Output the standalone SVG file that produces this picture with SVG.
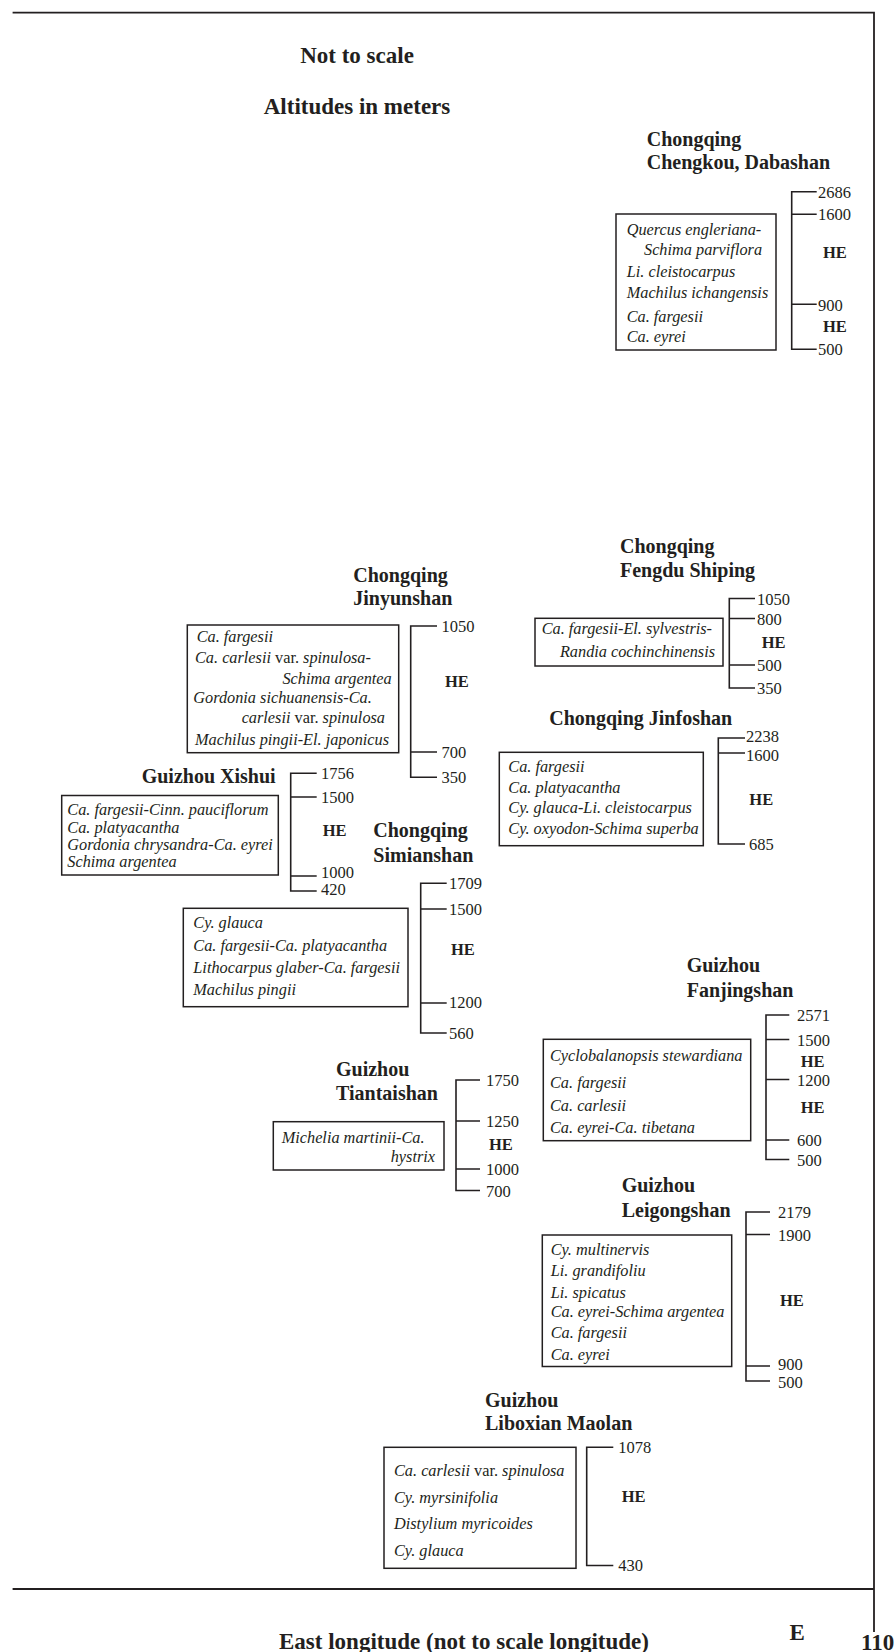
<svg xmlns="http://www.w3.org/2000/svg" width="895" height="1652" viewBox="0 0 895 1652">
<style>
text{font-family:"Liberation Serif","Times New Roman",serif;fill:#231f20}
.hd{font-size:23px;font-weight:bold}
.t{font-size:20px;font-weight:bold}
.i{font-size:16.3px;font-style:italic}
.r{font-style:normal}
.n{font-size:16.5px}
.he{font-size:16.5px;font-weight:bold}
.e{text-anchor:end}
.box{fill:none;stroke:#231f20;stroke-width:1.5}
.br{fill:none;stroke:#231f20;stroke-width:1.6}
.fr{fill:none;stroke:#231f20;stroke-width:1.8}
</style>
<g id="frame">
<path class="fr" d="M12.6,12.6 H874 V1632"/>
<path class="fr" d="M12.6,1589 H874"/>
<text class="hd" x="357" y="63" text-anchor="middle">Not to scale</text>
<text class="hd" x="357" y="114" text-anchor="middle">Altitudes in meters</text>
<text class="hd" x="464" y="1649" text-anchor="middle">East longitude (not to scale longitude)</text>
<text class="hd" x="789.5" y="1640">E</text>
<text class="hd" x="861" y="1650">110</text>
</g>
<g id="connectors"></g>
<g id="dabashan">
<text class="t" x="646.7" y="146">Chongqing</text>
<text class="t" x="646.7" y="169">Chengkou, Dabashan</text>
<rect class="box" x="616" y="214" width="160" height="136"/>
<text class="i" x="626.7" y="235">Quercus engleriana-</text>
<text class="i" x="644" y="255">Schima parviflora</text>
<text class="i" x="626.7" y="276.7">Li. cleistocarpus</text>
<text class="i" x="626.7" y="298">Machilus ichangensis</text>
<text class="i" x="626.7" y="321.7">Ca. fargesii</text>
<text class="i" x="626.7" y="341.7">Ca. eyrei</text>
<path class="br" d="M816.7,191.7 H791.7 V349.3 H816.7 M791.7,214.3 H816.7 M791.7,304.3 H816.7"/>
<text class="n" x="818" y="197.5">2686</text>
<text class="n" x="818" y="220">1600</text>
<text class="n" x="818" y="311">900</text>
<text class="n" x="818" y="355">500</text>
<text class="he" x="823" y="258">HE</text>
<text class="he" x="823" y="331.7">HE</text>
</g>
<g id="jinyunshan">
<text class="t" x="353.3" y="581.7">Chongqing</text>
<text class="t" x="353.3" y="605">Jinyunshan</text>
<rect class="box" x="187.3" y="625" width="211.4" height="127.7"/>
<text class="i" x="196.7" y="641.7">Ca. fargesii</text>
<text class="i" x="195" y="663.3">Ca. carlesii <tspan class="r">var.</tspan> spinulosa-</text>
<text class="i e" x="391.7" y="684">Schima argentea</text>
<text class="i" x="193.3" y="703.3">Gordonia sichuanensis-Ca.</text>
<text class="i e" x="385" y="723.3">carlesii <tspan class="r">var.</tspan> spinulosa</text>
<text class="i" x="195" y="745">Machilus pingii-El. japonicus</text>
<path class="br" d="M437,626 H410.7 V777.3 H437 M410.7,752 H437"/>
<text class="n" x="441.5" y="632">1050</text>
<text class="n" x="441.5" y="758">700</text>
<text class="n" x="441.5" y="783">350</text>
<text class="he" x="445" y="686.7">HE</text>
</g>
<g id="fengdu">
<text class="t" x="620" y="553.3">Chongqing</text>
<text class="t" x="620" y="577">Fengdu Shiping</text>
<rect class="box" x="535" y="618.3" width="188" height="47.7"/>
<text class="i" x="541.7" y="634">Ca. fargesii-El. sylvestris-</text>
<text class="i e" x="715" y="657">Randia cochinchinensis</text>
<path class="br" d="M755,598.5 H729.3 V688 H755 M729.3,618.5 H755 M729.3,665 H755"/>
<text class="n" x="757" y="604.5">1050</text>
<text class="n" x="757" y="624.5">800</text>
<text class="n" x="757" y="671">500</text>
<text class="n" x="757" y="694">350</text>
<text class="he" x="761.7" y="648.3">HE</text>
</g>
<g id="jinfoshan">
<text class="t" x="549.3" y="725">Chongqing Jinfoshan</text>
<rect class="box" x="499.3" y="752.3" width="204" height="93.4"/>
<text class="i" x="508.3" y="772">Ca. fargesii</text>
<text class="i" x="508.3" y="792.5">Ca. platyacantha</text>
<text class="i" x="508.3" y="813">Cy. glauca-Li. cleistocarpus</text>
<text class="i" x="508.3" y="834">Cy. oxyodon-Schima superba</text>
<path class="br" d="M745,738 H718.3 V844 H745 M718.3,753 H745"/>
<text class="n" x="746" y="741.5">2238</text>
<text class="n" x="746" y="760.5">1600</text>
<text class="n" x="749" y="850">685</text>
<text class="he" x="749.3" y="805">HE</text>
</g>
<g id="xishui">
<text class="t" x="141.7" y="783.3">Guizhou Xishui</text>
<rect class="box" x="61.7" y="795.5" width="216.6" height="79.5"/>
<text class="i" x="67.3" y="815">Ca. fargesii-Cinn. pauciflorum</text>
<text class="i" x="67.3" y="833">Ca. platyacantha</text>
<text class="i" x="67.3" y="850">Gordonia chrysandra-Ca. eyrei</text>
<text class="i" x="67.3" y="867.3">Schima argentea</text>
<path class="br" d="M316.7,773.3 H290.7 V891 H316.7 M290.7,797 H316.7 M290.7,876 H316.7"/>
<text class="n" x="321" y="779">1756</text>
<text class="n" x="321" y="803">1500</text>
<text class="n" x="321" y="878">1000</text>
<text class="n" x="321" y="894.5">420</text>
<text class="he" x="322.7" y="836">HE</text>
</g>
<g id="simianshan">
<text class="t" x="373.3" y="836.7">Chongqing</text>
<text class="t" x="373.3" y="861.7">Simianshan</text>
<rect class="box" x="183.3" y="908.3" width="224.7" height="98.4"/>
<text class="i" x="193.3" y="928">Cy. glauca</text>
<text class="i" x="193.3" y="951">Ca. fargesii-Ca. platyacantha</text>
<text class="i" x="193.3" y="973">Lithocarpus glaber-Ca. fargesii</text>
<text class="i" x="193.3" y="995">Machilus pingii</text>
<path class="br" d="M446.7,883.3 H420.7 V1033 H446.7 M420.7,909 H446.7 M420.7,1003 H446.7"/>
<text class="n" x="449" y="889">1709</text>
<text class="n" x="449" y="915">1500</text>
<text class="n" x="449" y="1008">1200</text>
<text class="n" x="449" y="1039">560</text>
<text class="he" x="451" y="955">HE</text>
</g>
<g id="fanjingshan">
<text class="t" x="686.7" y="971.7">Guizhou</text>
<text class="t" x="686.7" y="996.7">Fanjingshan</text>
<rect class="box" x="543.3" y="1039.3" width="207.4" height="101.4"/>
<text class="i" x="550" y="1060.5">Cyclobalanopsis stewardiana</text>
<text class="i" x="550" y="1087.5">Ca. fargesii</text>
<text class="i" x="550" y="1111">Ca. carlesii</text>
<text class="i" x="550" y="1133">Ca. eyrei-Ca. tibetana</text>
<path class="br" d="M789.3,1015 H766 V1159.5 H789.3 M766,1039.5 H789.3 M766,1079.5 H789.3 M766,1140 H789.3"/>
<text class="n" x="797" y="1021">2571</text>
<text class="n" x="797" y="1045.5">1500</text>
<text class="n" x="797" y="1085.5">1200</text>
<text class="n" x="797" y="1146">600</text>
<text class="n" x="797" y="1165.5">500</text>
<text class="he" x="800.7" y="1066.7">HE</text>
<text class="he" x="800.7" y="1113.3">HE</text>
</g>
<g id="tiantaishan">
<text class="t" x="336" y="1076">Guizhou</text>
<text class="t" x="336" y="1100">Tiantaishan</text>
<rect class="box" x="273.3" y="1121.7" width="170.7" height="48.3"/>
<text class="i" x="281.7" y="1143.3">Michelia martinii-Ca.</text>
<text class="i e" x="435" y="1162">hystrix</text>
<path class="br" d="M480,1080 H456 V1190.5 H480 M456,1121 H480 M456,1169 H480"/>
<text class="n" x="486" y="1086">1750</text>
<text class="n" x="486" y="1127">1250</text>
<text class="n" x="486" y="1175">1000</text>
<text class="n" x="486" y="1196.5">700</text>
<text class="he" x="489" y="1150">HE</text>
</g>
<g id="leigongshan">
<text class="t" x="621.7" y="1191.7">Guizhou</text>
<text class="t" x="621.7" y="1216.7">Leigongshan</text>
<rect class="box" x="542.3" y="1235" width="189.4" height="131.5"/>
<text class="i" x="550.7" y="1255">Cy. multinervis</text>
<text class="i" x="550.7" y="1276">Li. grandifoliu</text>
<text class="i" x="550.7" y="1298">Li. spicatus</text>
<text class="i" x="550.7" y="1316.5">Ca. eyrei-Schima argentea</text>
<text class="i" x="550.7" y="1338">Ca. fargesii</text>
<text class="i" x="550.7" y="1360">Ca. eyrei</text>
<path class="br" d="M770,1212 H746 V1381 H770 M746,1234.5 H770 M746,1366 H770"/>
<text class="n" x="778" y="1218">2179</text>
<text class="n" x="778" y="1240.5">1900</text>
<text class="n" x="778" y="1370">900</text>
<text class="n" x="778" y="1388">500</text>
<text class="he" x="780" y="1306">HE</text>
</g>
<g id="maolan">
<text class="t" x="485" y="1406.7">Guizhou</text>
<text class="t" x="485" y="1430">Liboxian Maolan</text>
<rect class="box" x="384" y="1447.3" width="192" height="121"/>
<text class="i" x="394" y="1476">Ca. carlesii <tspan class="r">var.</tspan> spinulosa</text>
<text class="i" x="394" y="1502.5">Cy. myrsinifolia</text>
<text class="i" x="394" y="1529">Distylium myricoides</text>
<text class="i" x="394" y="1556">Cy. glauca</text>
<path class="br" d="M613.3,1447.3 H586.7 V1565.5 H613.3"/>
<text class="n" x="618.3" y="1453">1078</text>
<text class="n" x="618.3" y="1571">430</text>
<text class="he" x="621.7" y="1502">HE</text>
</g>
</svg>
